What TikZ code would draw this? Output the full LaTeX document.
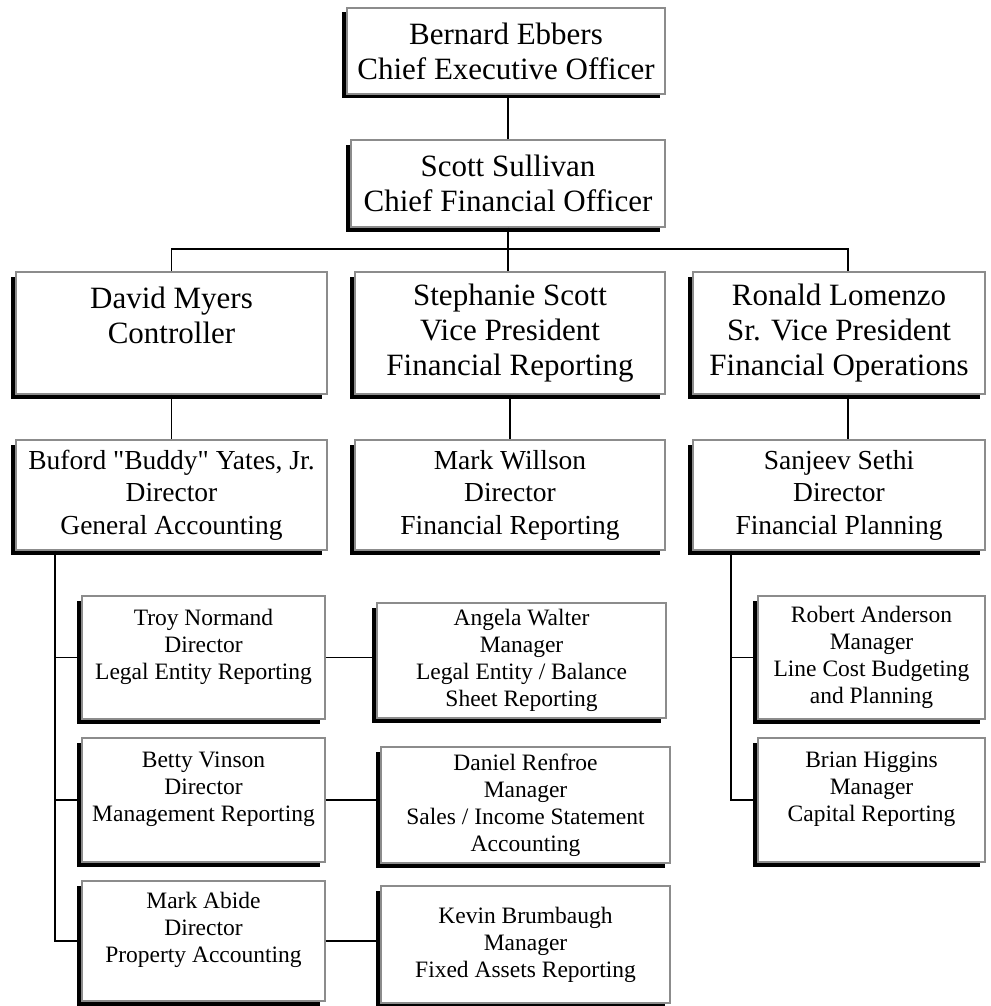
\documentclass[tikz,border=0pt]{standalone}
\usepackage{fontspec}
\setmainfont{Liberation Serif}[Ligatures=TeXOff]
\usetikzlibrary{shadows}
\tikzset{
  box/.style={draw=black!45, line width=1.3pt, fill=white, align=center, inner sep=0pt,
    general shadow={fill=black, shadow xshift=-5pt, shadow yshift=-4.5pt}},
  big/.style={font=\fontsize{31}{35}\selectfont},
  mid/.style={font=\fontsize{27.5}{32.5}\selectfont},
  small/.style={font=\fontsize{23.5}{27}\selectfont},
  link/.style={line width=1.6pt, draw=black},
}
\begin{document}
\begin{tikzpicture}[x=1pt,y=-1pt]
\useasboundingbox (0,0) rectangle (990,1006);
% level 1-2
\node[box,big,minimum width=318pt,minimum height=86pt] (ceo) at (506,51) {Bernard Ebbers\\Chief Executive Officer};
\node[box,big,minimum width=314pt,minimum height=87pt] (cfo) at (508,183.5) {Scott Sullivan\\Chief Financial Officer};
% level 3
\node[box,big,minimum width=311pt,minimum height=122pt] (cont) at (171.5,333) {David Myers\\Controller\\\mbox{}};
\node[box,big,minimum width=310pt,minimum height=122pt] (vp) at (510,333) {Stephanie Scott\\Vice President\\Financial Reporting};
\node[box,big,minimum width=292pt,minimum height=122pt] (svp) at (839,333) {Ronald Lomenzo\\Sr. Vice President\\Financial Operations};
% level 4
\node[box,mid,minimum width=311pt,minimum height=110pt] (dga) at (171.5,495) {Buford "Buddy" Yates, Jr.\\Director\\General Accounting};
\node[box,mid,minimum width=310pt,minimum height=110pt] (dfr) at (510,495) {Mark Willson\\Director\\Financial Reporting};
\node[box,mid,minimum width=292pt,minimum height=110pt] (dfp) at (839,495) {Sanjeev Sethi\\Director\\Financial Planning};
% left branch
\node[box,small,minimum width=243pt,minimum height=123pt] (troy) at (203.5,657.5) {Troy Normand\\Director\\Legal Entity Reporting\\\mbox{}};
\node[box,small,minimum width=243pt,minimum height=124pt] (betty) at (203.5,800) {Betty Vinson\\Director\\Management Reporting\\\mbox{}};
\node[box,small,minimum width=243pt,minimum height=120pt] (abide) at (203.5,941) {Mark Abide\\Director\\Property Accounting\\\mbox{}};
\node[box,small,minimum width=289pt,minimum height=115pt] (angela) at (521.5,660.5) {Angela Walter\\Manager\\Legal Entity / Balance\\Sheet Reporting};
\node[box,small,minimum width=289pt,minimum height=116pt] (daniel) at (525.5,805) {Daniel Renfroe\\Manager\\Sales / Income Statement\\Accounting};
\node[box,small,minimum width=289pt,minimum height=117pt] (kevin) at (525.5,944.5) {Kevin Brumbaugh\\Manager\\Fixed Assets Reporting};
% right branch
\node[box,small,minimum width=227pt,minimum height=123pt] (robert) at (871.5,657.5) {Robert Anderson\\Manager\\Line Cost Budgeting\\and Planning};
\node[box,small,minimum width=227pt,minimum height=124pt] (brian) at (871.5,800) {Brian Higgins\\Manager\\Capital Reporting\\\mbox{}};
% helper coordinates
\coordinate (bus) at (0,249);
\coordinate (lx) at (55,0);
\coordinate (rx) at (731,0);
% connectors
\draw[link] (cfo.north) -- (cfo.north |- ceo.south);
\draw[link] (cfo.south) -- (cfo.south |- vp.north);
\draw[link] (cont.north) -- (cont.north |- bus) -| ([xshift=9pt]svp.north);
\draw[link] (cont.south) -- (dga.north);
\draw[link] (vp.south) -- (dfr.north);
\draw[link] ([xshift=9pt]svp.south) -- ([xshift=9pt]dfp.north);
\draw[link] (dga.south -| lx) |- (abide.west);
\draw[link] (lx |- troy.west) -- (troy.west);
\draw[link] (lx |- betty.west) -- (betty.west);
\draw[link] (troy.east) -- (troy.east -| angela.west);
\draw[link] (betty.east) -- (betty.east -| daniel.west);
\draw[link] (abide.east) -- (abide.east -| kevin.west);
\draw[link] (dfp.south -| rx) |- (brian.west);
\draw[link] (rx |- robert.west) -- (robert.west);
\end{tikzpicture}
\end{document}
